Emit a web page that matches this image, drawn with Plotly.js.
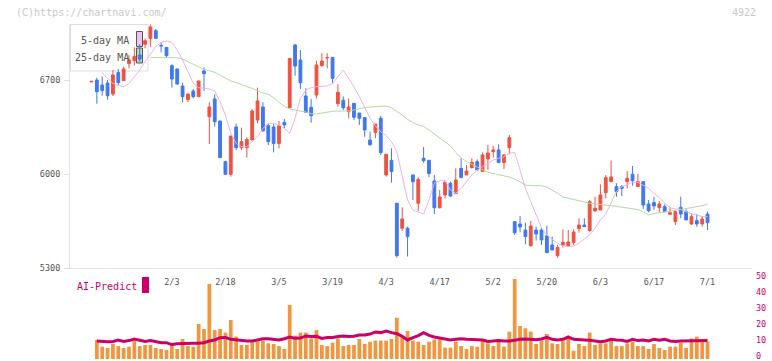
<!DOCTYPE html>
<html><head><meta charset="utf-8">
<script src="https://cdn.plot.ly/plotly-3.0.1.min.js"></script>
<style>html,body{margin:0;padding:0;background:#fff}#chart{width:772px;height:361px}</style>
</head><body><div id="chart"></div>
<script>
// trading days (2025)
const dates = [
 '1/10','1/14','1/15','1/16','1/17','1/20','1/21','1/22','1/23','1/24','1/27','1/28','1/29','1/30','1/31',
 '2/3','2/4','2/5','2/6','2/7','2/10','2/12','2/13','2/14','2/17','2/18','2/19','2/20','2/21','2/25','2/26','2/27','2/28',
 '3/3','3/4','3/5','3/6','3/7','3/10','3/11','3/12','3/13','3/14','3/17','3/18','3/19','3/21','3/24','3/25','3/26','3/27','3/28','3/31',
 '4/1','4/2','4/3','4/4','4/7','4/8','4/9','4/10','4/11','4/14','4/15','4/16','4/17','4/18','4/21','4/22','4/23','4/24','4/25','4/28','4/30',
 '5/1','5/2','5/7','5/8','5/9','5/12','5/13','5/14','5/15','5/16','5/19','5/20','5/21','5/22','5/23','5/26','5/27','5/28','5/29','5/30',
 '6/2','6/3','6/4','6/5','6/6','6/9','6/10','6/11','6/12','6/13','6/16','6/17','6/18','6/19','6/20','6/23','6/24','6/25','6/26','6/27','6/30',
 '7/1'];
const tickLabels = ['2/3','2/18','3/5','3/19','4/3','4/17','5/2','5/20','6/3','6/17','7/1'];

const open = [6686,6700,6663,6678,6596,6755,6695,6822,6844,6886,6966,7010,7067,6958,6943,6807,6782,6655,6554,6618,
 6576,6767,6427,6559,6395,6092,5998,6350,6196,6196,6253,6402,6499,6360,6350,6228,6385,6494,6961,6849,
 6581,6497,6588,6807,6864,6869,6524,6549,6464,6526,6454,6420,6253,6310,6415,5993,6102,5782,5596,5596,
 5993,5782,6117,6102,5948,5749,5844,5931,5854,6042,5993,6047,6092,6018,6112,6166,6179,6085,6196,5645,
 5628,5583,5466,5583,5583,5539,5471,5392,5471,5464,5489,5593,5620,5578,5725,5732,5861,5943,5906,5906,
 5943,5998,5906,5943,5777,5787,5749,5757,5700,5645,5752,5720,5628,5653,5628,5702];
const high = [6692,6717,6725,6700,6774,6782,6799,6886,6943,6966,7010,7114,7080,6980,6943,6817,6785,6680,6596,6633,
 6693,6792,6534,6593,6395,6099,6283,6375,6345,6273,6482,6643,6534,6377,6372,6395,6410,6861,6968,6923,
 6638,6559,6844,6899,6899,6869,6668,6578,6563,6526,6454,6420,6315,6372,6434,6147,6191,5782,5752,5608,
 5993,5975,6201,6102,5993,5881,5950,5943,6042,6117,6067,6117,6109,6161,6216,6209,6221,6147,6291,5645,
 5687,5638,5650,5608,5601,5615,5534,5471,5588,5583,5588,5670,5670,5807,5831,5923,5993,6099,5931,5918,
 6022,6060,6000,5943,5807,5831,5799,5774,5757,5720,5831,5737,5707,5702,5687,5720];
const low = [6684,6524,6583,6554,6581,6663,6695,6787,6809,6837,6936,6948,7008,6906,6866,6643,6668,6534,6534,6563,
 6576,6618,6223,6353,6122,5993,5980,6179,6179,6122,6253,6377,6320,6216,6161,6191,6340,6494,6732,6633,
 6457,6382,6563,6799,6787,6675,6501,6477,6415,6402,6365,6278,6211,6266,6142,5980,5936,5377,5576,5385,
 5807,5725,6084,5978,5702,5744,5819,5829,5854,5973,5993,6042,6022,6018,6030,6122,6085,6037,6147,5546,
 5566,5476,5459,5504,5471,5414,5434,5377,5452,5464,5471,5563,5608,5571,5720,5732,5819,5943,5831,5836,
 5893,5913,5906,5740,5715,5732,5715,5715,5700,5620,5670,5658,5620,5608,5608,5583];
const close = [6690,6613,6621,6583,6737,6680,6782,6849,6874,6856,6993,7095,7010,6954,6881,6707,6670,6576,6596,6576,
 6693,6747,6499,6390,6122,5998,6283,6196,6241,6258,6469,6544,6320,6241,6228,6358,6365,6861,6804,6680,
 6460,6434,6812,6841,6868,6712,6608,6494,6499,6422,6415,6328,6218,6372,6159,6147,6018,5392,5665,5534,
 5943,5960,6099,6003,5749,5829,5938,5836,5955,5973,6022,6087,6030,6142,6156,6179,6085,6142,6271,5563,
 5606,5534,5613,5553,5509,5414,5434,5452,5491,5494,5568,5620,5608,5794,5745,5844,5973,5978,5869,5893,
 5968,5950,5943,5769,5727,5762,5777,5720,5712,5720,5702,5658,5682,5628,5665,5638];

const ma5 = [null,null,6750,6712,6675,6658,6650,6675,6725,6774,6837,6891,6948,6980,6990,6980,6923,6849,6762,6675,
 6643,6638,6633,6618,6539,6439,6303,6228,6204,6204,6241,6278,6340,6377,6377,6365,6340,6303,6415,6564,
 6626,6643,6650,6650,6655,6675,6725,6774,6712,6650,6576,6489,6415,6358,6315,6286,6241,6166,5993,5806,
 5732,5715,5702,5806,5931,5950,5950,5881,5856,5893,5943,5993,6030,6055,6084,6104,6117,6129,6154,6161,
 6030,5893,5794,5695,5600,5546,5516,5484,5466,5459,5464,5484,5516,5546,5596,5658,5702,5782,5869,5906,
 5923,5938,5938,5913,5893,5856,5824,5782,5749,5740,5737,5720,5702,5695,5682,5682];
const ma25 = [null,null,null,null,null,null,null,null,null,null,null,6869,6866,6866,6866,6866,6866,6856,6837,6817,
 6794,6779,6770,6757,6737,6712,6693,6680,6663,6650,6638,6618,6603,6593,6568,6534,6504,6484,6474,6469,
 6462,6449,6447,6454,6462,6467,6469,6469,6469,6477,6487,6494,6499,6501,6506,6506,6494,6469,6439,6407,
 6382,6365,6355,6328,6298,6273,6241,6209,6161,6122,6092,6072,6047,6027,6012,6003,5995,5988,5978,5963,
 5938,5918,5913,5913,5913,5903,5881,5856,5829,5819,5811,5799,5787,5782,5777,5774,5769,5764,5759,5754,
 5749,5744,5735,5720,5695,5705,5712,5720,5725,5730,5735,5744,5749,5757,5764,5774];

// AI-Predict (from 1/14 onward)
const aiBars = [11.9,7.7,6.9,9.4,8.1,6.9,7.7,11.5,8.1,8.75,8.75,6.9,6.25,5.6,8.1,6.25,12.5,8.1,7.7,
 21.9,18.75,46.9,18.1,18.75,16.5,24.4,14,8.75,8.75,10.5,11,11.5,9.8,9.4,8.1,6.25,33.75,14.6,16.5,
 16.5,12.9,18.1,8.75,8.1,10.2,12.9,8.1,8.75,8.75,12.5,9.4,10.8,11.5,11.5,11.5,12.5,25.8,14,17.5,
 11.5,10.8,8.75,10.8,12.3,12.3,7.1,7.1,10.8,8.1,6.25,8.1,7.7,11.5,9.8,8.1,12.3,7.7,17.1,50,
 20.6,19.2,17.1,9.4,11.5,15.6,9.8,9.4,11.5,12.5,5.2,9.4,8.1,16.5,8.75,9.8,9.8,11.25,8.1,8.1,
 9.8,10.8,8.1,8.1,6.25,9.4,6.9,5.6,7.7,7.7,10.2,6.9,12.9,14,11.25,10.8];
const aiLine = [11.25,11,10.8,11,11.9,11,11.5,12.5,11.9,11,11.5,10.8,10.2,10.2,9,9.6,9.8,9.8,9.8,
 9.8,10.2,11.25,11.9,13.3,13.5,12.3,11.9,11.9,11.25,11.2,11.9,12.7,12.7,12.3,11.9,12.7,13.75,12.9,13.1,
 14.4,14,14.2,12.9,13.5,13.5,14,14.4,14,14.2,15,15,15.6,16.9,16.5,17.5,16.5,15.8,14.2,11.9,
 13.3,14.6,16.5,14.8,13.75,13.1,12.7,11.9,12.3,12.7,12.3,12.3,11.9,11.9,11,11.25,11.5,11.2,11.2,11.7,
 12.4,12.5,12.1,12.1,12.5,13.5,12.3,11.9,12.3,13.75,12.3,11.9,11.9,11.7,11.25,10.8,11.25,12.3,11.9,11.7,
 11,12.3,11.5,11.9,11.25,12.3,11.7,12.3,11.25,11,11.25,11.25,11.25,11.5,11.5,11.5];

const RED = '#EF5240', BLUE = '#4078F0', ORANGE = '#F0963E', MAGENTA = '#CC0066';
const FONT = 'DejaVu Sans Mono';

const traces = [
 {type:'candlestick', x:dates, open:open, high:high, low:low, close:close,
  increasing:{line:{color:RED,width:1}, fillcolor:RED},
  decreasing:{line:{color:BLUE,width:1}, fillcolor:BLUE},
  whiskerwidth:0, hoverinfo:'skip', xaxis:'x', yaxis:'y'},
 {type:'scatter', mode:'lines', x:dates, y:ma5, line:{color:'#E8B4E8', width:1}, hoverinfo:'skip', xaxis:'x', yaxis:'y'},
 {type:'scatter', mode:'lines', x:dates, y:ma25, line:{color:'#B4D9A2', width:1}, hoverinfo:'skip', xaxis:'x', yaxis:'y'},
 {type:'bar', x:dates.slice(1), y:aiBars, marker:{color:ORANGE}, hoverinfo:'skip', xaxis:'x', yaxis:'y2'},
 {type:'scatter', mode:'lines', x:dates.slice(1), y:aiLine, line:{color:MAGENTA, width:3}, hoverinfo:'skip', xaxis:'x', yaxis:'y2'}
];

const mainFrac = (359-268)/335;
const px = v => (v-70)/682, py = v => (359-v)/335;

const layout = {
 width:772, height:361,
 margin:{l:70, r:20, t:24, b:2},
 paper_bgcolor:'#fff', plot_bgcolor:'rgba(0,0,0,0)',
 showlegend:false,
 font:{family:FONT, color:'#555'},
 boxgap:0.25, bargap:0.3,
 xaxis:{type:'category', range:[-4.013,123.3], anchor:'y', showline:true, linecolor:'#e2e2e2', linewidth:1,
  showgrid:false, zeroline:false, ticks:'', tickvals:tickLabels, ticktext:tickLabels,
  tickfont:{family:FONT, size:8.5, color:'#555'}, ticklabelstandoff:6, rangeslider:{visible:false}},
 xaxis2:{overlaying:'x', anchor:'y', range:[0,11], tickvals:[0,1,2,3,4,5,6,7,8,9,10,11], ticks:'outside',
  ticklen:6, tickcolor:'#e2e2e2', showticklabels:false, showgrid:false, zeroline:false, showline:false},
 yaxis:{domain:[mainFrac,1], range:[5300,7117], tickvals:[5300,6000,6700], ticks:'outside', ticklen:5,
  tickcolor:'#dddddd', showline:true, linecolor:'#e2e2e2', linewidth:1, showgrid:false, zeroline:false,
  tickfont:{family:FONT, size:8.5, color:'#555'}, ticklabelstandoff:2},
 yaxis2:{domain:[0,mainFrac], range:[0,56.875], anchor:'x', side:'right', tickvals:[0,10,20,30,40,50],
  ticks:'', showgrid:false, zeroline:false, showline:false, ticklabelstandoff:3, ticklabeloverflow:'allow',
  ticklabelshift:-3, tickfont:{family:FONT, size:8.5, color:MAGENTA}},
 shapes:[
  {type:'rect', xref:'paper', yref:'paper', x0:px(70.5), x1:px(148), y0:py(71), y1:py(24.5), layer:'below',
   line:{color:'#dddddd', width:1}, fillcolor:'#ffffff'},
  {type:'rect', xref:'paper', yref:'paper', x0:px(136.5), x1:px(142.5), y0:py(46.5), y1:py(31.5), layer:'below',
   line:{color:'#555', width:1}, fillcolor:'#ECC4EC'},
  {type:'rect', xref:'paper', yref:'paper', x0:px(136.5), x1:px(142.5), y0:py(63), y1:py(48), layer:'below',
   line:{color:'#555', width:1}, fillcolor:'#BCD9B0'},
  {type:'rect', xref:'paper', yref:'paper', x0:px(142), x1:px(149), y0:py(293), y1:py(277),
   line:{width:0}, fillcolor:MAGENTA}
 ],
 annotations:[
  {text:'(C)https://chartnavi.com/', xref:'paper', yref:'paper', x:px(14), y:py(12), xanchor:'left', yanchor:'middle',
   showarrow:false, font:{family:FONT, size:10, color:'#c8c8c8'}},
  {text:'4922', xref:'paper', yref:'paper', x:px(758), y:py(12), xanchor:'right', yanchor:'middle',
   showarrow:false, font:{family:FONT, size:10, color:'#c8c8c8'}},
  {text:'5-day MA', xref:'paper', yref:'paper', x:px(131), y:py(40), xanchor:'right', yanchor:'middle',
   showarrow:false, font:{family:FONT, size:10, color:'#555'}},
  {text:'25-day MA', xref:'paper', yref:'paper', x:px(131), y:py(57), xanchor:'right', yanchor:'middle',
   showarrow:false, font:{family:FONT, size:10, color:'#555'}},
  {text:'AI-Predict', xref:'paper', yref:'paper', x:px(75), y:py(286), xanchor:'left', yanchor:'middle',
   showarrow:false, font:{family:FONT, size:10, color:MAGENTA}}
 ]
};

Plotly.newPlot('chart', traces, layout, {staticPlot:true, displayModeBar:false});
</script>
</body></html>
